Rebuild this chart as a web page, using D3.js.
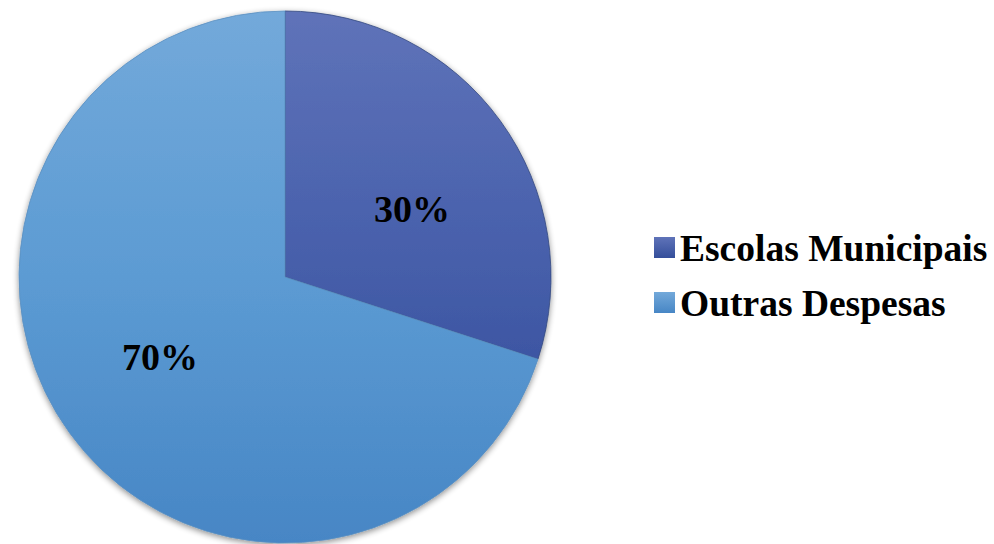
<!DOCTYPE html>
<html>
<head>
<meta charset="utf-8">
<script src="https://cdn.jsdelivr.net/npm/d3@7"></script>
<style>
  html, body { margin: 0; padding: 0; background: #fff; }
  svg { display: block; }
</style>
</head>
<body>
<svg id="chart" width="994" height="544"></svg>
<script>
// Budget share data
const categories = ["Escolas Municipais", "Outras Despesas"];
const values = [30, 70];
const valueLabels = ["30%", "70%"];

const width = 994, height = 544;
const cx = 285, cy = 277, radius = 266;

const svg = d3.select("#chart");
const defs = svg.append("defs");

// Vertical gradients for each slice (offset, colour), in the pie group's local coordinates
const gradStops = [
  [[0, "#5f73b9"], [0.4, "#4a62ad"], [0.68, "#3c55a2"], [1, "#344e9a"]],
  [[0, "#73a9da"], [0.5, "#5c9bd3"], [1, "#4786c5"]]
];
gradStops.forEach((stops, i) => {
  const g = defs.append("linearGradient")
    .attr("id", "grad" + i)
    .attr("gradientUnits", "userSpaceOnUse")
    .attr("x1", 0).attr("y1", -radius)
    .attr("x2", 0).attr("y2", radius);
  stops.forEach(([o, c]) => g.append("stop").attr("offset", o).attr("stop-color", c));
});

// Soft drop shadow beneath the pie
const shadow = defs.append("filter").attr("id", "shadow")
  .attr("x", "-10%").attr("y", "-10%").attr("width", "120%").attr("height", "120%");
shadow.append("feGaussianBlur").attr("in", "SourceAlpha").attr("stdDeviation", 3).attr("result", "blur");
shadow.append("feOffset").attr("in", "blur").attr("dx", 0).attr("dy", 2).attr("result", "off");
shadow.append("feComponentTransfer").attr("in", "off").attr("result", "faded")
  .append("feFuncA").attr("type", "linear").attr("slope", 0.45);
const merge = shadow.append("feMerge");
merge.append("feMergeNode").attr("in", "faded");
merge.append("feMergeNode").attr("in", "SourceGraphic");

const pie = d3.pie().sort(null).value(d => d)(values);
const arc = d3.arc().innerRadius(0).outerRadius(radius);

const g = svg.append("g").attr("transform", `translate(${cx},${cy})`);

g.append("g").attr("filter", "url(#shadow)")
  .selectAll("path")
  .data(pie)
  .join("path")
  .attr("d", arc)
  .attr("fill", (d, i) => `url(#grad${i})`)
  .attr("stroke", (d, i) => i === 0 ? "#34497f" : "#5a8fc0")
  .attr("stroke-width", 0.8);

// Percentage labels
const labelPos = [[412 - cx, 222 - cy], [160 - cx, 370 - cy]];
g.selectAll("text.val")
  .data(pie)
  .join("text")
  .attr("class", "val")
  .attr("x", (d, i) => labelPos[i][0])
  .attr("y", (d, i) => labelPos[i][1])
  .attr("text-anchor", "middle")
  .attr("font-family", "'Liberation Serif', 'Times New Roman', serif")
  .attr("font-weight", "bold")
  .attr("font-size", 38)
  .attr("fill", "#000")
  .text((d, i) => valueLabels[i]);

// Legend
const legend = svg.append("g").attr("transform", "translate(654,0)");
const legendY = [261, 316];
categories.forEach((c, i) => {
  const lg = defs.append("linearGradient")
    .attr("id", "legGrad" + i)
    .attr("x1", 0).attr("y1", 0).attr("x2", 0).attr("y2", 1);
  lg.append("stop").attr("offset", "0%").attr("stop-color", gradStops[i][0][1]);
  lg.append("stop").attr("offset", "100%").attr("stop-color", gradStops[i][gradStops[i].length - 1][1]);
  legend.append("rect")
    .attr("x", 0).attr("y", legendY[i] - 24)
    .attr("width", 21).attr("height", 21)
    .attr("fill", `url(#legGrad${i})`);
  legend.append("text")
    .attr("x", 26).attr("y", legendY[i])
    .attr("font-family", "'Liberation Serif', 'Times New Roman', serif")
    .attr("font-weight", "bold")
    .attr("font-size", 37.5)
    .attr("fill", "#000")
    .text(c);
});
</script>
</body>
</html>
